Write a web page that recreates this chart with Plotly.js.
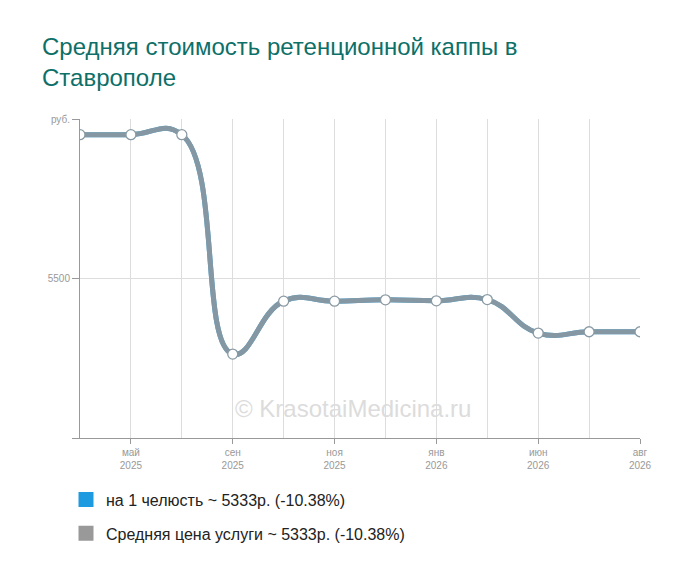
<!DOCTYPE html>
<html><head><meta charset="utf-8">
<script src="https://cdn.plot.ly/plotly-3.0.1.min.js"></script>
<style>body{margin:0;background:#fff}#c{width:700px;height:582px}</style>
</head><body><div id="c"></div>
<script>
const categories = ["апр 2025","май 2025","июл 2025","сен 2025","окт 2025","ноя 2025","дек 2025","янв 2026","мар 2026","июн 2026","июл 2026","авг 2026"];
const perJaw = [5951,5951,5951,5263,5429,5429,5433,5430,5434,5329,5333,5333];
const avgPrice = [5951,5951,5951,5263,5429,5429,5433,5430,5434,5329,5333,5333];
const tickIdx = [1,3,5,7,9,11];
const tickLabels = ["май<br>2025","сен<br>2025","ноя<br>2025","янв<br>2026","июн<br>2026","авг<br>2026"];
const seriesNames = ["на 1 челюсть ~ 5333р. (-10.38%)","Средняя цена услуги ~ 5333р. (-10.38%)"];
const xs = categories.map((_, i) => i);

const traces = [
  {x: xs, y: perJaw, mode: 'lines', line: {color: '#1e9be0', width: 5, shape: 'spline', smoothing: 1.3}, showlegend: false, hoverinfo: 'skip'},
  {x: xs, y: avgPrice, mode: 'lines+markers', line: {color: 'rgba(150,150,150,0.85)', width: 5, shape: 'spline', smoothing: 1.3},
   marker: {size: 10, color: '#fff', line: {color: '#8a9aa4', width: 1.3}}, showlegend: false, hoverinfo: 'skip'},
  {x: [null], y: [null], mode: 'markers', name: seriesNames[0], marker: {symbol: 'square', size: 15, color: '#1e9be0'}, legendgroup: 'a'},
  {x: [null], y: [null], mode: 'markers', name: seriesNames[1], marker: {symbol: 'square', size: 15, color: '#999999'}, legendgroup: 'b'}
];

const layout = {
  width: 700, height: 582,
  margin: {l: 80, r: 60, t: 119, b: 144},
  paper_bgcolor: '#fff', plot_bgcolor: '#fff',
  font: {family: 'Liberation Sans, Arial, sans-serif'},
  title: {text: 'Средняя стоимость ретенционной каппы в<br>Ставрополе', x: 0.06, xanchor: 'left', y: 0.905, yanchor: 'top',
          font: {size: 24, color: '#0d7068', family: 'Liberation Sans, Arial, sans-serif'}},
  xaxis: {range: [0, 11], tickvals: tickIdx, ticktext: tickLabels, ticks: 'outside', ticklen: 5, tickcolor: '#999',
          showgrid: true, gridcolor: '#ddd', zeroline: false, showline: true, linecolor: '#999', linewidth: 1,
          tickfont: {size: 10, color: '#999'},
          minor: {tick0: 0, dtick: 1, showgrid: true, gridcolor: '#ddd', ticks: ''}},
  yaxis: {range: [5000, 6000], tickvals: [5000, 5500, 6000], ticktext: ['', '5500', 'руб.'], ticks: 'outside', ticklen: 7, tickcolor: '#999',
          showgrid: false, zeroline: false, showline: true, linecolor: '#999', linewidth: 1,
          tickfont: {size: 10, color: '#999'}},
  shapes: [{type: 'line', xref: 'paper', x0: 0, x1: 1, yref: 'y', y0: 5500, y1: 5500, line: {color: '#ddd', width: 1}, layer: 'below'}],
  annotations: [{text: '© KrasotaiMedicina.ru', xref: 'paper', yref: 'paper', x: 0.488, y: 0.094, yanchor: 'middle', showarrow: false,
                 font: {size: 24, color: '#dcdcdc'}}],
  legend: {orientation: 'v', x: -0.025, xanchor: 'left', y: -0.14, yanchor: 'top', tracegroupgap: 10,
           font: {size: 16, color: '#222'}, itemwidth: 30}
};
Plotly.newPlot('c', traces, layout, {displayModeBar: false, staticPlot: true});
</script></body></html>
